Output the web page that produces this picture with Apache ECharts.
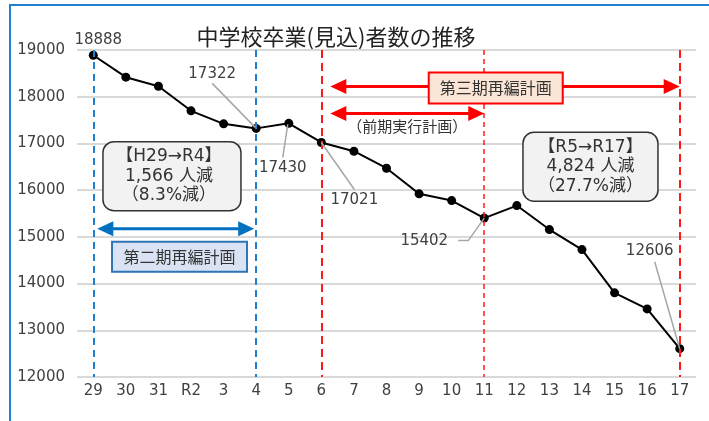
<!DOCTYPE html>
<html><head><meta charset="utf-8">
<script src="https://cdn.jsdelivr.net/npm/echarts@6/dist/echarts.min.js"></script>
<style>html,body{margin:0;padding:0;background:#fff}#c{width:709px;height:421px}</style>
</head><body><div id="c"></div>
<script>
const categories = ['29','30','31','R2','3','4','5','6','7','8','9','10','11','12','13','14','15','16','17'];
const students = [18888,18418,18225,17698,17420,17322,17430,17021,16833,16469,15921,15777,15402,15670,15156,14728,13801,13458,12606];
const yMin = 12000, yMax = 19000, yStep = 1000;
const titleText = '中学校卒業(見込)者数の推移';
const phase2Text = '第二期再編計画';
const phase3Text = '第三期再編計画';
const earlyText = '（前期実行計画）';
const box1Lines = ['【H29→R4】','1,566 人減','（8.3%減）'];
const box2Lines = ['【R5→R17】','4,824 人減','（27.7%減）'];
const blueLines = ['29','4'];
const redLines = ['6','11','17'];

const NUM = "'DejaVu Sans','Noto Sans CJK JP',sans-serif";
const JP = "'Noto Sans CJK JP',sans-serif";

const chart = echarts.init(document.getElementById('c'), null, {renderer:'canvas'});

const vLines = [];
blueLines.forEach(c => vLines.push([{coord:[c,yMax], lineStyle:{color:'#1f7fd0', width:2, type:[7,5]}},{coord:[c,yMin]}]));
redLines.forEach((c,i) => vLines.push([{coord:[c,yMax], lineStyle:{color:'#ff1a1a', width: i===1?1.5:2, type: i===1?[5,4]:[8,5]}},{coord:[c,yMin]}]));

chart.setOption({
  animation:false,
  backgroundColor:'#fff',
  grid:{left:77, right:13, top:50, bottom:44},
  xAxis:{type:'category', data:categories, boundaryGap:true,
    axisLine:{show:false}, axisTick:{show:false},
    axisLabel:{color:'#404040', fontSize:15, fontFamily:NUM, margin:7}},
  yAxis:{type:'value', min:yMin, max:yMax, interval:yStep,
    axisLine:{show:false}, axisTick:{show:false},
    axisLabel:{color:'#404040', fontSize:15, fontFamily:NUM, margin:12, formatter: v => String(v)},
    splitLine:{lineStyle:{color:'#d9d9d9', width:2}}},
  series:[{
    type:'line', data:students, symbol:'circle', symbolSize:9,
    lineStyle:{color:'#000', width:2}, itemStyle:{color:'#000'},
    markLine:{silent:true, symbol:'none', label:{show:false}, data:vLines}
  }]
});

const X = i => chart.convertToPixel({xAxisIndex:0}, categories[i]);
const Y = v => chart.convertToPixel({yAxisIndex:0}, v);
const P = i => [X(i), Y(students[i])];

const g = [];
g.push({type:'rect', shape:{x:10,y:5,width:800,height:500}, style:{fill:'none', stroke:'#1f7fd0', lineWidth:2}, z:1});
g.push({type:'text', style:{text:titleText, x:336, y:37, align:'center', verticalAlign:'middle', font:'22px '+JP, fill:'#222'}, z:10});

function txt(s, x, y, size, font, color){
  g.push({type:'text', style:{text:s, x:x, y:y, align:'center', verticalAlign:'middle', font:size+'px '+font, fill:color||'#404040'}, z:20});
}
function leader(pts){
  g.push({type:'polyline', shape:{points:pts}, style:{stroke:'#a6a6a6', lineWidth:1.5, fill:'none'}, z:15});
}
function arrow(x1,x2,y,color,lw,hl,hw){
  g.push({type:'line', shape:{x1:x1+hl-1, y1:y, x2:x2-hl+1, y2:y}, style:{stroke:color, lineWidth:lw}, z:12});
  g.push({type:'polygon', shape:{points:[[x1,y],[x1+hl,y-hw/2],[x1+hl,y+hw/2]]}, style:{fill:color}, z:12});
  g.push({type:'polygon', shape:{points:[[x2,y],[x2-hl,y-hw/2],[x2-hl,y+hw/2]]}, style:{fill:color}, z:12});
}
function box(cx,cy,w,h,r,fill,stroke,lw){
  g.push({type:'rect', shape:{x:cx-w/2, y:cy-h/2, width:w, height:h, r:r}, style:{fill:fill, stroke:stroke, lineWidth:lw}, z:13});
}

let p;
p = P(0); txt(String(students[0]), p[0]+5, p[1]-15, 15, NUM);
p = P(5); txt(String(students[5]), p[0]-44, p[1]-54, 15, NUM); leader([[p[0]-44,p[1]-45],[p[0]-1,p[1]-1]]);
p = P(6); txt(String(students[6]), p[0]-6, p[1]+45, 15, NUM); leader([[p[0]-6,p[1]+34],[p[0]-1,p[1]+1]]);
p = P(7); txt(String(students[7]), p[0]+33, p[1]+58, 15, NUM); leader([[p[0]+33,p[1]+47],[p[0],p[1]]]);
p = P(12); txt(String(students[12]), p[0]-60, p[1]+23.5, 15, NUM); leader([[p[0]-26,p[1]+22.5],[p[0]-16,p[1]+22.5],[p[0],p[1]]]);
p = P(18); txt(String(students[18]), p[0]-30, p[1]-98, 15, NUM); leader([[p[0]-25,p[1]-87],[p[0],p[1]]]);

const yTop = Y(18220), yLow = Y(17640);
arrow(X(7)+9, X(18), yTop, '#ff0000', 3, 16, 15);
arrow(X(7)+9, X(12), yLow, '#ff0000', 3, 16, 15);
box(X(12)+11.5, yTop+1.5, 134, 31, 0, '#fbe5d6', '#ff0000', 2);
txt(phase3Text, X(12)+11.5, yTop+1.5, 16, JP, '#333');
txt(earlyText, (X(7)+9+X(12))/2, yLow+13, 15, JP, '#333');

const yBlue = Y(15173);
arrow(X(0)+4, X(5)-2, yBlue, '#0070c0', 3, 16, 15);
box(X(3)-11.5, Y(14573), 135, 30, 0, '#dae3f3', '#2e75b6', 2);
txt(phase2Text, X(3)-11.5, Y(14573), 16, JP, '#333');

const b1x = X(2)+13.5, b1y = Y(16300);
box(b1x, b1y, 138, 69, 11, '#f2f2f2', '#333', 1.5);
box1Lines.forEach((s,i)=>txt(s, b1x-3, b1y+(i-1)*19.5, 17, NUM, '#333'));
const b2x = X(15)+8.5, b2y = Y(16500);
box(b2x, b2y, 135, 69, 11, '#f2f2f2', '#333', 1.5);
box2Lines.forEach((s,i)=>txt(s, b2x, b2y+(i-1)*19.5, 17, NUM, '#333'));

chart.setOption({graphic:g});
</script></body></html>
